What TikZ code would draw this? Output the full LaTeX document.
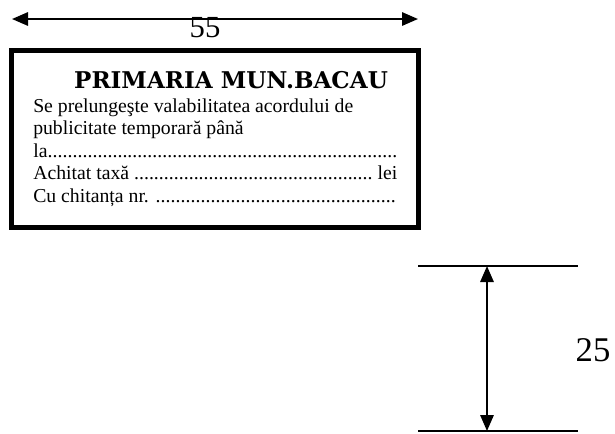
\documentclass[tikz,border=0pt]{standalone}
\usepackage{fontspec}
\setmainfont{Liberation Serif}
\newfontfamily\stampfont{DejaVu Serif}
\usetikzlibrary{arrows.meta}
\newcommand\dotrun{\xleaders\hbox{.}\hfill}
\tikzset{
  dimline/.style={line width=1.5pt, {Triangle[length=12pt,width=10pt]}-{Triangle[length=12pt,width=10pt]}},
  rowtext/.style={anchor=base west, inner sep=0pt, font=\fontsize{14.8}{14.8}\selectfont}
}

\begin{document}
\begin{tikzpicture}[x=0.75pt,y=-0.75pt]
	\useasboundingbox (0,0) rectangle (615,433);
	
	% width 55
	\coordinate (wl) at (12,19);
	\coordinate (wr) at (418,19);
	\draw[dimline] (wl) -- (wr);
	\node (wlabel) at (205,28) {\fontsize{23}{23}\selectfont 55};
	
	% the stamp
	\draw[line width=3.75pt] (11,50) rectangle (418,227);
	\node[anchor=base, inner sep=0pt] (title) at (231,88) {\stampfont\bfseries\fontsize{17.3}{17.3}\selectfont PRIMARIA MUN.BACAU};
	\node[rowtext] (row1) at (33,112) {Se prelungeşte valabilitatea acordului de};
	\node[rowtext] (row2) at (33,134) {publicitate temporară până};
	\node[rowtext] (row3) at (33,157) {\hbox to 273pt{la\dotrun}};
	\node[rowtext] (row4) at (33,179) {\hbox to 273pt{Achitat taxă \dotrun\ lei}};
	\node[rowtext] (row5) at (33,202) {\hbox to 272pt{Cu chitanța nr. \dotrun}};
	
	% height 25
	\coordinate (ta) at (418,266);
	\coordinate (tb) at (578,266);
	\coordinate (ba) at (418,431);
	\coordinate (bb) at (578,431);
	\coordinate (ht) at (487,266);
	\coordinate (hb) at (487,431);
	\draw[line width=1.5pt] (ta) -- (tb);
	\draw[line width=1.5pt] (ba) -- (bb);
	\draw[dimline] (ht) -- (hb);
	\node (hlabel) at (593,350) {\fontsize{26}{26}\selectfont 25};
\end{tikzpicture}
\end{document}
